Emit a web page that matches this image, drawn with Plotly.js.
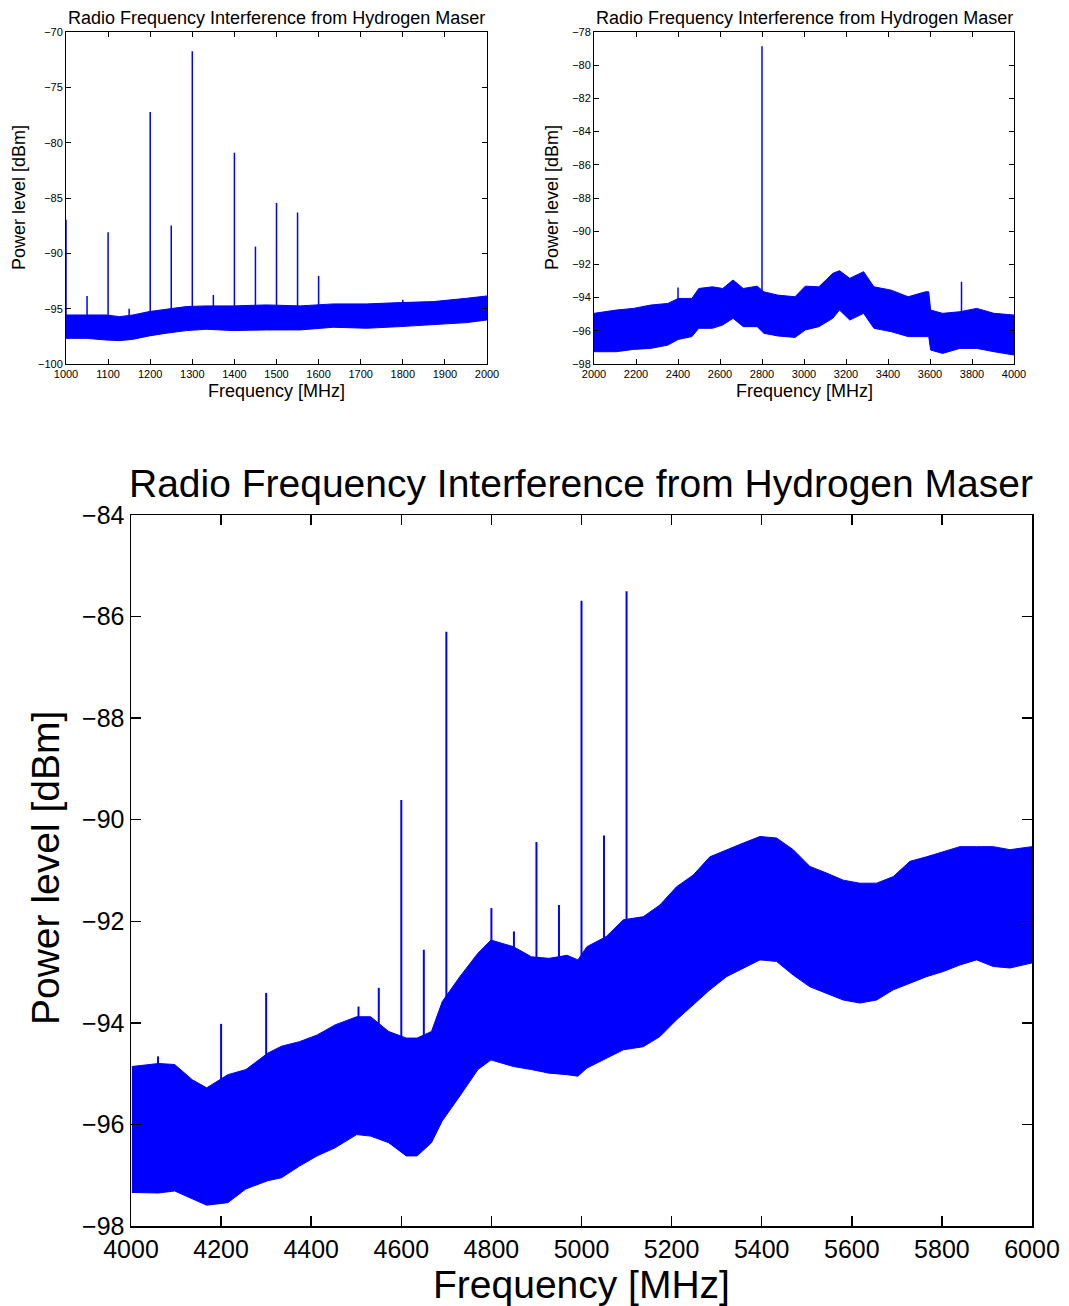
<!DOCTYPE html>
<html><head><meta charset="utf-8">
<script src="https://cdn.plot.ly/plotly-3.0.1.min.js"></script>
<style>html,body{margin:0;padding:0;background:#fff}</style>
</head><body><div id="chart" style="width:1069px;height:1306px"></div>
<script>
// ---- Panel 1: 1000-2000 MHz ----
const p1Freq  = [1000,1048,1095,1127,1159,1198,1238,1286,1333,1397,1476,1556,1635,1714,1794,1873,1952,2000];
const p1Upper = [-95.57,-95.57,-95.57,-95.72,-95.57,-95.26,-95.05,-94.81,-94.75,-94.75,-94.66,-94.75,-94.57,-94.57,-94.45,-94.36,-94.06,-93.85];
const p1Lower = [-97.68,-97.68,-97.83,-97.89,-97.77,-97.46,-97.22,-96.98,-96.86,-96.98,-96.92,-96.92,-96.68,-96.77,-96.62,-96.47,-96.26,-96.02];
const p1SpikeFreq = [1000,1050,1100,1150,1200,1250,1300,1350,1400,1450,1500,1550,1600,1800];
const p1SpikePeak = [-86.97,-93.85,-88.09,-95.0,-77.24,-87.49,-71.75,-93.76,-80.91,-89.39,-85.44,-86.31,-92.04,-94.2];

// ---- Panel 2: 2000-4000 MHz ----
const p2Freq  = [2000,2106,2188,2270,2352,2401,2466,2499,2564,2613,2662,2711,2777,2809,2875,2957,3006,3071,3137,3169,3218,3284,3333,3415,3496,3578,3594,3603,3660,3742,3823,3905,4000];
const p2Upper = [-94.95,-94.75,-94.65,-94.45,-94.35,-94.05,-94.05,-93.45,-93.35,-93.45,-92.94,-93.45,-93.31,-93.65,-93.85,-93.95,-93.31,-93.35,-92.54,-92.38,-92.84,-92.44,-93.35,-93.55,-93.95,-93.65,-93.65,-94.75,-94.95,-94.85,-94.65,-94.95,-95.05];
const p2Lower = [-97.26,-97.26,-97.12,-97.06,-96.86,-96.52,-96.35,-95.85,-95.85,-95.65,-95.25,-95.75,-95.75,-96.15,-96.31,-96.4,-95.95,-95.75,-95.25,-94.75,-95.35,-94.95,-95.85,-96.05,-96.35,-96.35,-96.35,-97.16,-97.36,-97.06,-97.06,-97.26,-97.46];
const p2SpikeFreq = [2400,2800,3750];
const p2SpikePeak = [-93.39,-78.86,-93.05];

// ---- Panel 3: 4000-6000 MHz ----
const p3Freq  = [4002,4061,4097,4136,4168,4215,4255,4303,4334,4374,4413,4453,4501,4532,4572,4611,4635,4667,4691,4730,4770,4799,4849,4889,4928,4968,4992,5012,5055,5093,5137,5174,5211,5248,5285,5322,5359,5396,5433,5470,5507,5544,5581,5618,5655,5692,5729,5766,5803,5840,5877,5914,5951,6000];
const p3Upper = [-94.86,-94.8,-94.82,-95.12,-95.28,-95.02,-94.92,-94.6,-94.46,-94.37,-94.24,-94.04,-93.88,-93.88,-94.17,-94.3,-94.3,-94.17,-93.58,-93.09,-92.63,-92.37,-92.5,-92.7,-92.73,-92.67,-92.76,-92.5,-92.3,-91.97,-91.91,-91.68,-91.32,-91.09,-90.73,-90.59,-90.46,-90.33,-90.36,-90.59,-90.92,-91.05,-91.19,-91.25,-91.25,-91.12,-90.82,-90.73,-90.63,-90.53,-90.53,-90.53,-90.59,-90.53];
const p3Lower = [-97.34,-97.35,-97.31,-97.47,-97.59,-97.54,-97.27,-97.11,-97.05,-96.82,-96.62,-96.46,-96.2,-96.23,-96.36,-96.62,-96.62,-96.36,-95.93,-95.44,-94.92,-94.73,-94.86,-94.92,-94.99,-95.02,-95.05,-94.89,-94.7,-94.53,-94.47,-94.27,-93.94,-93.65,-93.35,-93.09,-92.92,-92.76,-92.79,-93.06,-93.29,-93.42,-93.55,-93.61,-93.55,-93.35,-93.22,-93.09,-92.99,-92.86,-92.76,-92.89,-92.92,-92.82];
const p3SpikeFreq = [4060,4200,4300,4505,4550,4600,4650,4700,4800,4850,4900,4950,5000,5050,5100];
const p3SpikePeak = [-94.66,-94.02,-93.41,-93.68,-93.31,-89.61,-92.56,-86.30,-91.74,-92.2,-90.44,-91.68,-85.69,-90.31,-85.5];

const TITLE = 'Radio Frequency Interference from Hydrogen Maser';
const XT = 'Frequency [MHz]';
const YT = 'Power level [dBm]';
const BLUE = 'rgb(0,0,255)';
const FONT = 'Liberation Sans, Arial, Helvetica, sans-serif';

function nearestMid(freqs, ups, lows, f) {
  let best = 0;
  for (let i = 1; i < freqs.length; i++) if (Math.abs(freqs[i]-f) < Math.abs(freqs[best]-f)) best = i;
  return (ups[best] + lows[best]) / 2;
}
function bandTraces(freqs, upper, lower, xa, ya) {
  return [
    {x: freqs, y: lower, xaxis: xa, yaxis: ya, mode: 'lines', line: {color: BLUE, width: 1}, hoverinfo: 'skip', showlegend: false},
    {x: freqs, y: upper, xaxis: xa, yaxis: ya, mode: 'lines', line: {color: BLUE, width: 1}, fill: 'tonexty', fillcolor: BLUE, hoverinfo: 'skip', showlegend: false}
  ];
}
function spikeTrace(sf, sp, freqs, ups, lows, xa, ya, w) {
  const x = [], y = [];
  sf.forEach((f, i) => { x.push(f, f, null); y.push(nearestMid(freqs, ups, lows, f), sp[i], null); });
  return {x, y, xaxis: xa, yaxis: ya, mode: 'lines', line: {color: BLUE, width: w}, hoverinfo: 'skip', showlegend: false};
}

const data = [
  ...bandTraces(p1Freq, p1Upper, p1Lower, 'x', 'y'),
  spikeTrace(p1SpikeFreq, p1SpikePeak, p1Freq, p1Upper, p1Lower, 'x', 'y', 1.5),
  ...bandTraces(p2Freq, p2Upper, p2Lower, 'x2', 'y2'),
  spikeTrace(p2SpikeFreq, p2SpikePeak, p2Freq, p2Upper, p2Lower, 'x2', 'y2', 1.5),
  ...bandTraces(p3Freq, p3Upper, p3Lower, 'x3', 'y3'),
  spikeTrace(p3SpikeFreq, p3SpikePeak, p3Freq, p3Upper, p3Lower, 'x3', 'y3', 2)
];

function ax(domain, range, dtick, anchor, fs, tl, lw) {
  return {domain, range, dtick, tick0: range[0], anchor, ticks: 'inside', ticklen: tl, tickwidth: lw, tickcolor: '#000',
    showline: true, linecolor: '#000', linewidth: lw, mirror: 'ticks', showgrid: false, zeroline: false,
    tickfont: {family: FONT, size: fs, color: '#000'}, fixedrange: true};
}
const W = 1069, H = 1306;
const px = v => v / W, py = v => 1 - v / H;

const layout = {
  width: W, height: H, margin: {l: 0, r: 0, t: 0, b: 0}, paper_bgcolor: '#fff', plot_bgcolor: '#fff',
  showlegend: false, font: {family: FONT, color: '#000'},
  xaxis:  ax([px(66), px(487)], [1000, 2000], 100, 'y', 11, 5, 1),
  yaxis:  ax([py(364), py(32)], [-100, -70], 5, 'x', 11, 5, 1),
  xaxis2: ax([px(594), px(1014)], [2000, 4000], 200, 'y2', 11, 5, 1),
  yaxis2: ax([py(364), py(32)], [-98, -78], 2, 'x2', 11, 5, 1),
  xaxis3: ax([px(131), px(1032)], [4000, 6000], 200, 'y3', 25, 10, 1.5),
  yaxis3: ax([py(1226), py(515)], [-98, -84], 2, 'x3', 25, 10, 1.5),
  annotations: [
    {text: TITLE, x: px(276), y: py(18), xref: 'paper', yref: 'paper', showarrow: false, font: {size: 18}, xanchor: 'center', yanchor: 'middle'},
    {text: XT, x: px(276), y: py(391), xref: 'paper', yref: 'paper', showarrow: false, font: {size: 18}, xanchor: 'center', yanchor: 'middle'},
    {text: YT, x: px(19), y: py(198), xref: 'paper', yref: 'paper', showarrow: false, font: {size: 18}, textangle: -90, xanchor: 'center', yanchor: 'middle'},
    {text: TITLE, x: px(804), y: py(18), xref: 'paper', yref: 'paper', showarrow: false, font: {size: 18}, xanchor: 'center', yanchor: 'middle'},
    {text: XT, x: px(804), y: py(391), xref: 'paper', yref: 'paper', showarrow: false, font: {size: 18}, xanchor: 'center', yanchor: 'middle'},
    {text: YT, x: px(552), y: py(198), xref: 'paper', yref: 'paper', showarrow: false, font: {size: 18}, textangle: -90, xanchor: 'center', yanchor: 'middle'},
    {text: TITLE, x: px(581), y: py(483), xref: 'paper', yref: 'paper', showarrow: false, font: {size: 39}, xanchor: 'center', yanchor: 'middle'},
    {text: XT, x: px(581), y: py(1284), xref: 'paper', yref: 'paper', showarrow: false, font: {size: 39}, xanchor: 'center', yanchor: 'middle'},
    {text: YT, x: px(45), y: py(868), xref: 'paper', yref: 'paper', showarrow: false, font: {size: 39}, textangle: -90, xanchor: 'center', yanchor: 'middle'}
  ]
};
Plotly.newPlot('chart', data, layout, {displayModeBar: false, staticPlot: true});
</script></body></html>
